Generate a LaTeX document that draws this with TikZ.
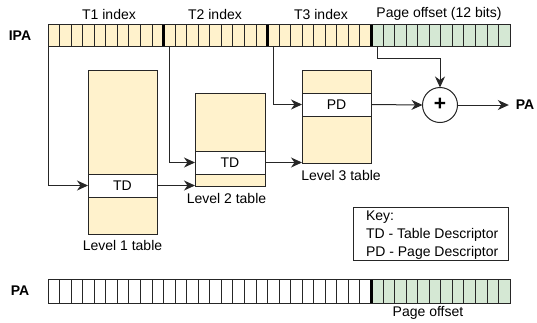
\documentclass[tikz,border=0pt]{standalone}
\usepackage{fontspec}
\setmainfont{Liberation Sans}
\usetikzlibrary{arrows.meta,calc}
\definecolor{tblfill}{HTML}{FFF2CC}
\definecolor{offfill}{HTML}{D5E8D4}
\definecolor{ln}{HTML}{262626}

\begin{document}
\begin{tikzpicture}[x=1pt,y=-1pt,
  every node/.style={inner sep=0pt, outer sep=0pt},
  txt/.style={font=\fontsize{14}{16}\selectfont},
  boldtxt/.style={font=\bfseries\fontsize{14}{16}\selectfont},
  tbl/.style={draw=ln, fill=tblfill, line width=1pt, minimum width=69pt},
  rowbox/.style={draw=ln, fill=white, line width=1pt, minimum width=69pt, minimum height=23pt, txt},
  wire/.style={draw=ln, line width=1pt, -{Stealth[length=11pt,width=10pt,inset=3.5pt]}},
  cellline/.style={draw=ln, line width=0.8pt},
  fieldsep/.style={draw=black, line width=3pt},
  keyline/.style={txt, anchor=base west},
]
\useasboundingbox (0,0) rectangle (537,322);
\def\cw{11.55}

% ---------- IPA register ----------
\fill[tblfill] (48,24) rectangle ({48+28*\cw},46.7);
\fill[offfill] ({48+28*\cw},24) rectangle ({48+40*\cw},46.7);
\foreach \i in {1,...,39} \draw[cellline] ({48+\i*\cw},24) -- ({48+\i*\cw},46.7);
\draw[cellline] (48,24) rectangle ({48+40*\cw},46.7);
\foreach \i in {10,19,28} \draw[fieldsep] ({48+\i*\cw},24.5) -- ({48+\i*\cw},46.2);

\node[boldtxt] (ipalbl) at (20,36) {IPA};
\node[txt] (t1lbl) at (109,14) {T1 index};
\node[txt] (t2lbl) at (215,14) {T2 index};
\node[txt] (t3lbl) at (321,14) {T3 index};
\node[txt] (polbl) at (439,14) {Page offset (12 bits)};

\coordinate (t1src) at (48,46.7);
\coordinate (t2src) at ({48+10.5*\cw},46.7);
\coordinate (t3src) at ({48+19.5*\cw},46.7);
\coordinate (posrc) at ({48+28.5*\cw},46.7);

% ---------- translation tables ----------
\node[tbl, minimum height=164pt] (l1) at (122.5,152) {};
\node[rowbox] (td1) at (122.5,185.5) {TD};
\node[txt] (l1lbl) at (122.5,245) {Level 1 table};

\node[tbl, minimum width=70pt, minimum height=93pt] (l2) at (230,139.5) {};
\node[rowbox, minimum width=70pt] (td2) at (230,162.5) {TD};
\node[txt] (l2lbl) at (226.5,198) {Level 2 table};

\node[tbl, minimum height=93pt] (l3) at (336.5,116.5) {};
\node[rowbox] (pd) at (336.5,104.5) {PD};
\node[txt] (l3lbl) at (341,175) {Level 3 table};

% ---------- adder and output ----------
\node[draw=ln, line width=1pt, circle, minimum size=35pt, fill=white] (add) at (440,105) {};
\node[font=\bfseries\fontsize{21}{22}\selectfont] (plus) at (440,104.5) {+};
\node[boldtxt] (paout) at (525,105) {PA};

% ---------- connectors ----------
\draw[wire] (t1src) |- (td1.west);
\draw[wire] (t2src) |- (td2.west);
\draw[wire] (t3src) |- (pd.west);
\draw[wire] (td1.east) -- (td1.east -| l2.west);
\draw[wire] (td2.east) -- (td2.east -| l3.west);
\draw[wire] (pd.east) -- (add.west);
\draw[wire] (posrc) -- ++(0,11.5) -| (add.north);
\draw[wire] (add.east) -- ($(paout.west)+(-7,0)$);

% ---------- key ----------
\node[draw=ln, line width=1pt, anchor=north west, minimum width=155pt,
      minimum height=53pt] (key) at (353,207) {};
\node[keyline] (keyhead) at (366,220) {Key:};
\node[keyline] (keytd) at (366,238) {TD - Table Descriptor};
\node[keyline] (keypd) at (366,256) {PD - Page Descriptor};

% ---------- PA register ----------
\fill[white] (48,279) rectangle ({48+28*\cw},303);
\fill[offfill] ({48+28*\cw},279) rectangle ({48+40*\cw},303);
\foreach \i in {1,...,39} \draw[cellline] ({48+\i*\cw},279) -- ({48+\i*\cw},303);
\draw[cellline] (48,279) rectangle ({48+40*\cw},303);
\draw[fieldsep] ({48+28*\cw},279.5) -- ({48+28*\cw},302.5);

\node[boldtxt] (palbl) at (20,291) {PA};
\node[txt] (pobot) at (428,313) {Page offset};
\end{tikzpicture}
\end{document}
